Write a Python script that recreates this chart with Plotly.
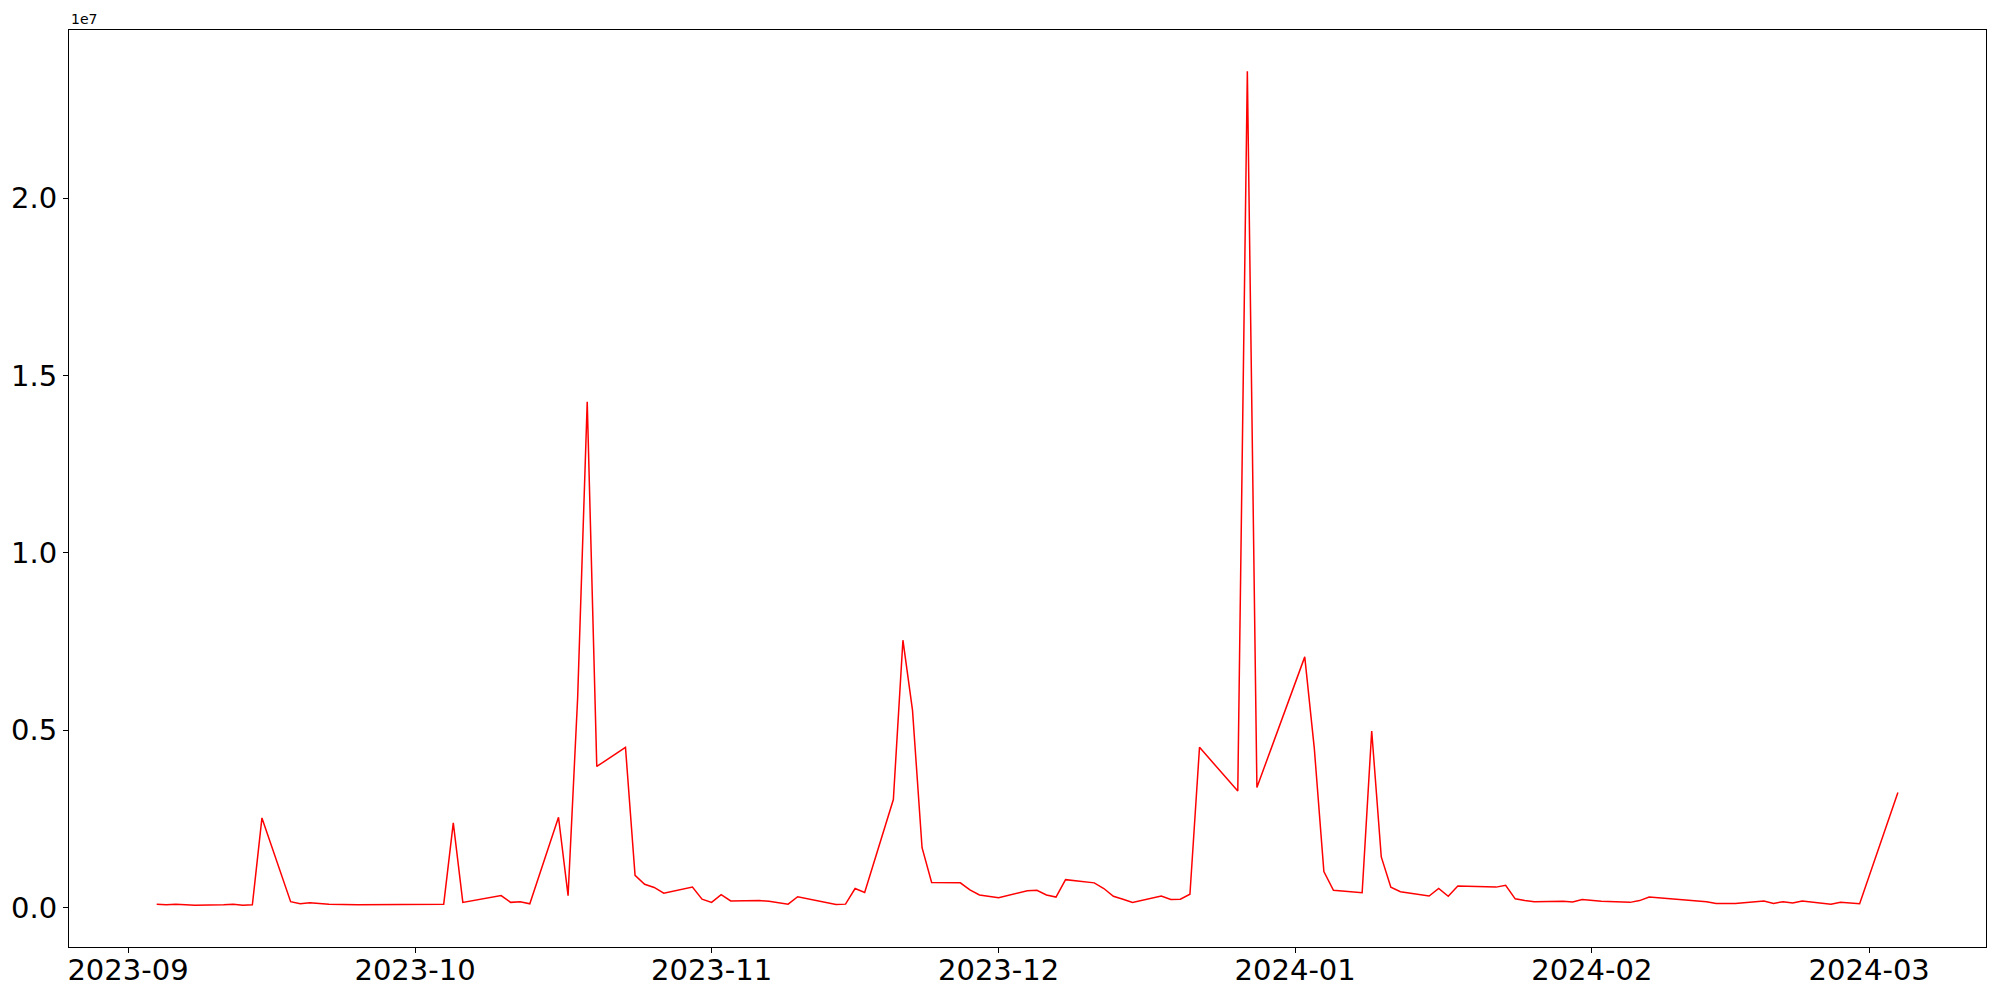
import plotly.graph_objects as go

dates = [
    "2023-09-04", "2023-09-05", "2023-09-06", "2023-09-07", "2023-09-08",
    "2023-09-11", "2023-09-12", "2023-09-13", "2023-09-14", "2023-09-15",
    "2023-09-18", "2023-09-19", "2023-09-20", "2023-09-21", "2023-09-22",
    "2023-09-25", "2023-09-26", "2023-09-27",
    "2023-10-04", "2023-10-05", "2023-10-06",
    "2023-10-10", "2023-10-11", "2023-10-12", "2023-10-13",
    "2023-10-16", "2023-10-17", "2023-10-18", "2023-10-19", "2023-10-20",
    "2023-10-23", "2023-10-24", "2023-10-25", "2023-10-26", "2023-10-27",
    "2023-10-30", "2023-10-31", "2023-11-01", "2023-11-02", "2023-11-03",
    "2023-11-06", "2023-11-07", "2023-11-08", "2023-11-09", "2023-11-10",
    "2023-11-14", "2023-11-15", "2023-11-16", "2023-11-17",
    "2023-11-20", "2023-11-21", "2023-11-22", "2023-11-23", "2023-11-24",
    "2023-11-27", "2023-11-28", "2023-11-29", "2023-11-30", "2023-12-01",
    "2023-12-04", "2023-12-05", "2023-12-06", "2023-12-07", "2023-12-08",
    "2023-12-11", "2023-12-12", "2023-12-13", "2023-12-14", "2023-12-15",
    "2023-12-18", "2023-12-19", "2023-12-20", "2023-12-21", "2023-12-22",
    "2023-12-26", "2023-12-27", "2023-12-28",
    "2024-01-02", "2024-01-03", "2024-01-04", "2024-01-05",
    "2024-01-08", "2024-01-09", "2024-01-10", "2024-01-11", "2024-01-12",
    "2024-01-15", "2024-01-16", "2024-01-17", "2024-01-18", "2024-01-19",
    "2024-01-22", "2024-01-23", "2024-01-24", "2024-01-25", "2024-01-26",
    "2024-01-29", "2024-01-30", "2024-01-31", "2024-02-01", "2024-02-02",
    "2024-02-05", "2024-02-06", "2024-02-07",
    "2024-02-13", "2024-02-14", "2024-02-15", "2024-02-16",
    "2024-02-19", "2024-02-20", "2024-02-21", "2024-02-22", "2024-02-23",
    "2024-02-26", "2024-02-27", "2024-02-28", "2024-02-29",
    "2024-03-04",
]

values_millions = [
    0.10, 0.08, 0.10, 0.08, 0.07,
    0.08, 0.10, 0.07, 0.08, 2.53,
    0.17, 0.11, 0.14, 0.12, 0.10,
    0.08, 0.08, 0.08,
    0.10, 2.39, 0.15,
    0.34, 0.15, 0.17, 0.11,
    2.55, 0.34, 5.92, 14.26, 3.98,
    4.52, 0.91, 0.66, 0.57, 0.41,
    0.58, 0.24, 0.15, 0.37, 0.19,
    0.20, 0.18, 0.14, 0.10, 0.31,
    0.09, 0.10, 0.54, 0.43,
    3.05, 7.54, 5.57, 1.69, 0.71,
    0.70, 0.50, 0.36, 0.32, 0.28,
    0.48, 0.49, 0.36, 0.30, 0.79,
    0.70, 0.54, 0.32, 0.24, 0.15,
    0.33, 0.23, 0.24, 0.38, 4.52,
    3.29, 23.58, 3.39,
    7.07, 4.49, 1.02, 0.49,
    0.42, 4.98, 1.43, 0.58, 0.45,
    0.33, 0.54, 0.32, 0.61, 0.60,
    0.58, 0.63, 0.25, 0.20, 0.17,
    0.18, 0.16, 0.23, 0.20, 0.18,
    0.15, 0.20, 0.30,
    0.17, 0.12, 0.11, 0.12,
    0.19, 0.12, 0.17, 0.13, 0.19,
    0.10, 0.15, 0.14, 0.11,
    3.25,
]

x_tick_vals = ["2023-09-01", "2023-10-01", "2023-11-01", "2023-12-01",
               "2024-01-01", "2024-02-01", "2024-03-01"]
x_tick_text = ["2023-09", "2023-10", "2023-11", "2023-12",
               "2024-01", "2024-02", "2024-03"]
y_tick_vals = [0, 5e6, 1e7, 1.5e7, 2e7]
y_tick_text = ["0.0", "0.5", "1.0", "1.5", "2.0"]

values = [v * 1e6 for v in values_millions]

fig = go.Figure()
fig.add_trace(go.Scatter(
    x=dates, y=values, mode="lines",
    line=dict(color="#ff0000", width=1.5),
    showlegend=False, hoverinfo="x+y",
))

font = dict(family="DejaVu Sans", size=29, color="black")
axis_common = dict(
    showline=True, linecolor="black", linewidth=1.1, mirror=True,
    ticks="outside", ticklen=5, tickwidth=1.1, tickcolor="black",
    showgrid=False, zeroline=False, tickfont=font, automargin=False,
)

fig.update_xaxes(
    type="date",
    range=["2023-08-25 20:00", "2024-03-13 05:00"],
    tickmode="array", tickvals=x_tick_vals, ticktext=x_tick_text,
    ticklabelstandoff=-8,
    **axis_common,
)
fig.update_yaxes(
    range=[-1.108e6, 24.74e6],
    tickmode="array", tickvals=y_tick_vals, ticktext=y_tick_text,
    **axis_common,
)

fig.add_annotation(
    text="1e7", xref="paper", yref="paper", x=0, y=1,
    xanchor="left", yanchor="bottom", showarrow=False,
    font=dict(family="DejaVu Sans", size=14, color="black"), yshift=1,
)

# page body has an 8px margin; size the figure so the plot area lands
# at the same pixel position as the reference
fig.update_layout(
    width=1984, height=984,
    margin=dict(l=61, r=6, t=22, b=45, pad=0),
    plot_bgcolor="white", paper_bgcolor="white",
    font=dict(family="DejaVu Sans", color="black"),
)

fig.write_html("out.html")
